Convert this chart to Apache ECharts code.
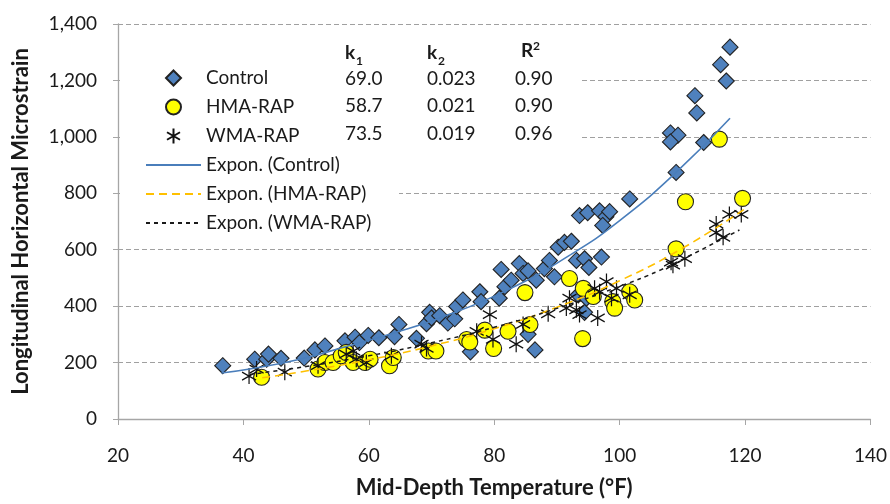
<!DOCTYPE html>
<html><head><meta charset="utf-8">
<script src="https://cdn.jsdelivr.net/npm/echarts@6/dist/echarts.min.js"></script>
<style>html,body{margin:0;padding:0;background:#fff}#c{width:890px;height:504px}</style>
</head><body><div id="c"></div>
<script>
// ---- data ----
const seriesNames = ['Control', 'HMA-RAP', 'WMA-RAP'];
const trendNames = ['Expon. (Control)', 'Expon. (HMA-RAP)', 'Expon. (WMA-RAP)'];
const tableHeaders = ['k', 'k', 'R'];
const tableHeaderMarks = ['1', '2', '2'];
const k1Values = ['69.0', '58.7', '73.5'];
const k2Values = ['0.023', '0.021', '0.019'];
const r2Values = ['0.90', '0.90', '0.96'];
const xAxisName = 'Mid-Depth Temperature (°F)';
const yAxisName = 'Longitudinal Horizontal Microstrain';

const controlPoints = [
  [36.7,189],[41.8,212],[43.7,212],[44,230],[46,215],[49.7,216],[51.4,245],[53,259],
  [56.2,277],[57.8,290],[58.5,271],[59.9,296],[61.6,288],[64.1,292],[64.8,335],[67.6,286],
  [69.2,338],[69.7,378],[70,358],[71.3,366],[72.6,340],[73.7,355],[74,399],[75,422],
  [76.2,238],[77.7,451],[77.9,416],[80.8,428],[81.1,530],[81.7,469],[82.7,492],[84,551],
  [84.6,516],[85.4,525],[85.4,300],[86.5,245],[86.7,492],[88,533],[88.8,562],[89.6,504],
  [90.2,609],[91.2,626],[92.3,630],[93.1,562],[93.4,440],[94.4,568],[94.4,378],[94.7,428],
  [95.1,537],[97.1,574],[93.6,721],[94.9,731],[96.8,738],[97.8,717],[98.4,735],[97.3,686],
  [101.6,780],[108.1,1014],[109.3,1006],[108.1,982],[109,874],[112,1146],[112.3,1085],
  [113.4,980],[116.1,1256],[117,1198],[117.6,1318]
];
const hmaPoints = [
  [42.9,148],[51.9,177],[53,200],[54.3,200],[55.6,224],[56.4,236],[57.5,200],[59.4,200],
  [60.2,212],[63.3,189],[63.9,218],[69.5,241],[70.7,241],[75.6,282],[76.1,273],[78.5,315],
  [79.9,250],[82.2,311],[84.9,448],[85.7,335],[92,498],[94.1,285],[94.2,463],[95.8,434],
  [98.9,416],[99.2,393],[101.6,451],[102.4,422],[109,603],[110.5,770],[115.9,992],[119.6,782]
];
const wmaPoints = [
  [40.9,152],[42.1,177],[46.6,166],[51.9,189],[56.4,230],[57.5,241],[58,212],[59.6,200],
  [63.6,224],[68.4,265],[69.2,250],[77.2,311],[79.3,370],[79.8,282],[83.5,265],[84.6,335],
  [88.6,373],[91.5,393],[92,428],[93.1,387],[93.6,370],[96,463],[96.5,358],[96.8,451],
  [97.9,487],[98.7,428],[99.5,463],[101.6,440],[108.2,556],[108.5,545],[110.4,568],
  [115.4,661],[115.4,691],[116.5,644],[117.5,725],[119.4,725]
];
const controlTrend = [[36.5,163],[41,177],[49,212],[56.4,257],[64,305],[71.3,358],[81.9,455],[92,580],[100,703],[109,874],[117.6,1066]];
const hmaTrend = [[43,146],[50,170],[60,210],[70,259],[80,320],[90,396],[100,490],[110,605],[120,745]];
const wmaTrend = [[41,158],[50,186],[60,224],[70,270],[80,325],[90,392],[100,470],[106.4,527],[111.7,585],[119.1,670]];

// ---- chart ----
const FONT = 'Lato';
const TXT = '#1a1a1a';
const asterisk = 'path://M10,0L10,20M1.34,5L18.66,15M1.34,15L18.66,5';
// legend icons padded to the 55x15 legend box so that they keep their shape
const legendDiamond = 'path://M0,0M55,15M27.5,0L35,7.5L27.5,15L20,7.5Z';
const legendAsterisk = 'path://M0,0M55,15M27.5,0L27.5,15M21,3.75L34,11.25M21,11.25L34,3.75';

const chart = echarts.init(document.getElementById('c'), null, {renderer: 'canvas'});

const tableCols = [345, 427, 515];
const headerX = [345, 427, 521];
const rowY = [79, 106, 134];
const graphics = [
  {type: 'rect', z: 1, shape: {x: 120, y: 34, width: 462, height: 118}, style: {fill: '#fff'}},
  {type: 'rect', z: 1, shape: {x: 120, y: 150, width: 279, height: 86}, style: {fill: '#fff'}}
];
tableHeaders.forEach((h, i) => {
  graphics.push({type: 'text', z: 5, x: headerX[i], y: i === 2 ? 51 : 53,
    style: {text: h, fontFamily: FONT, fontSize: 19, fontWeight: 'bold', fill: TXT, verticalAlign: 'middle'}});
  const isSup = i === 2;
  graphics.push({type: 'text', z: 5, x: headerX[i] + (isSup ? 12 : 11), y: isSup ? 46 : 61,
    style: {text: tableHeaderMarks[i], fontFamily: FONT, fontSize: 12, fontWeight: 'bold', fill: TXT, verticalAlign: 'middle'}});
});
[k1Values, k2Values, r2Values].forEach((col, c) => {
  col.forEach((v, r) => {
    graphics.push({type: 'text', z: 5, x: tableCols[c], y: rowY[r],
      style: {text: v, fontFamily: FONT, fontSize: 19, fill: TXT, verticalAlign: 'middle'}});
  });
});

const hiddenMark = {color: 'rgba(0,0,0,0)', borderColor: 'rgba(0,0,0,0)', borderWidth: 0, opacity: 0};
const legendData = [
  {name: seriesNames[0], icon: legendDiamond},
  {name: seriesNames[1]},
  {name: seriesNames[2], icon: legendAsterisk}
].concat(trendNames.map(n => ({name: n, itemStyle: hiddenMark})));

const option = {
  backgroundColor: '#fff',
  animation: false,
  textStyle: {fontFamily: FONT},
  grid: {left: 118, right: 19, top: 24, bottom: 80, containLabel: false},
  legend: {
    left: 145, top: 68, orient: 'vertical', padding: 0,
    itemWidth: 55, itemHeight: 15, itemGap: 9,
    symbolKeepAspect: true,
    selectedMode: false,
    textStyle: {fontFamily: FONT, fontSize: 19, color: TXT, lineHeight: 20},
    data: legendData
  },
  xAxis: {
    type: 'value', min: 20, max: 140, interval: 20,
    name: xAxisName, nameLocation: 'middle', nameGap: 58,
    nameTextStyle: {fontFamily: FONT, fontSize: 22, fontWeight: 'bold', color: TXT},
    axisLine: {show: true, lineStyle: {color: '#a6a6a6', width: 1.3}},
    axisTick: {show: true, length: 6, lineStyle: {color: '#a6a6a6'}},
    axisLabel: {fontFamily: FONT, fontSize: 19, color: TXT, margin: 27},
    splitLine: {show: false}
  },
  yAxis: {
    type: 'value', min: 0, max: 1400, interval: 200,
    name: yAxisName, nameLocation: 'middle', nameGap: 86,
    nameTextStyle: {fontFamily: FONT, fontSize: 22, fontWeight: 'bold', color: TXT},
    axisLine: {show: true, lineStyle: {color: '#a6a6a6', width: 1.3}},
    axisTick: {show: true, length: 5, lineStyle: {color: '#a6a6a6'}},
    axisLabel: {fontFamily: FONT, fontSize: 19, color: TXT, margin: 21,
      formatter: v => v.toLocaleString('en-US')},
    splitLine: {show: true, lineStyle: {color: '#a0a0a0', type: [5, 3], width: 1.2}}
  },
  graphic: graphics,
  series: [
    {name: seriesNames[0], type: 'scatter', data: controlPoints, symbol: 'diamond', symbolSize: 16, z: 2,
      itemStyle: {color: '#4f81bd', borderColor: '#222', borderWidth: 1.1, opacity: 1}},
    {name: seriesNames[1], type: 'scatter', data: hmaPoints, symbol: 'circle', symbolSize: 16, z: 2,
      itemStyle: {color: '#ffff00', borderColor: '#222', borderWidth: 1.1, opacity: 1}},
    {name: seriesNames[2], type: 'scatter', data: wmaPoints, symbol: asterisk, symbolSize: [14, 16], z: 2,
      itemStyle: {color: 'rgba(0,0,0,0)', borderColor: '#111', borderWidth: 1.3, opacity: 1}},
    {name: trendNames[0], type: 'line', data: controlTrend, smooth: true, symbol: 'none', z: 3,
      lineStyle: {color: '#4a7ebb', width: 1.6, type: 'solid'}, itemStyle: {color: '#4a7ebb'}},
    {name: trendNames[1], type: 'line', data: hmaTrend, smooth: true, symbol: 'none', z: 3,
      lineStyle: {color: '#ffc000', width: 1.6, type: [8, 5]}, itemStyle: {color: '#ffc000'}},
    {name: trendNames[2], type: 'line', data: wmaTrend, smooth: true, symbol: 'none', z: 3,
      lineStyle: {color: '#1a1a1a', width: 1.5, type: [4, 4]}, itemStyle: {color: '#1a1a1a'}}
  ]
};
chart.setOption(option);
</script>
</body></html>
